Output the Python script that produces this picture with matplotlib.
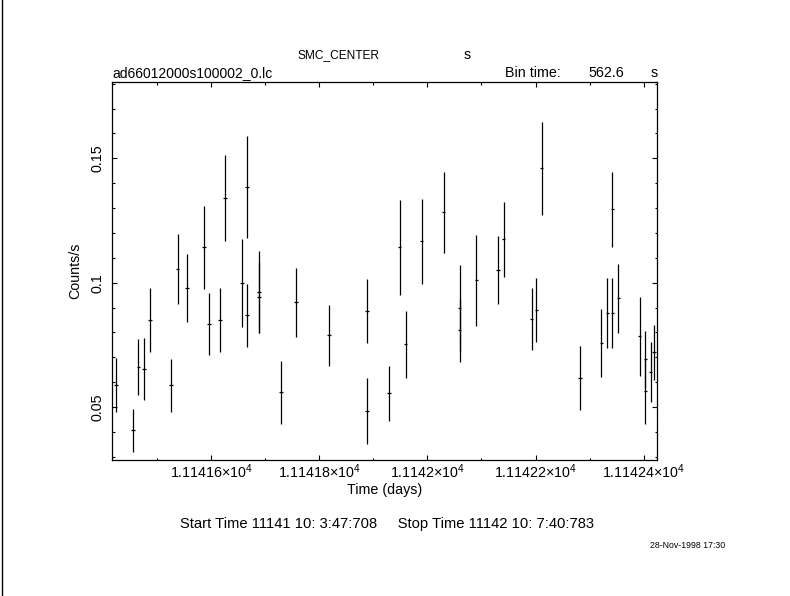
import matplotlib
matplotlib.use("Agg")
import matplotlib.pyplot as plt
from matplotlib.lines import Line2D
from matplotlib.ticker import MultipleLocator, FuncFormatter

plt.rcParams['font.family'] = ['Liberation Sans', 'DejaVu Sans']
plt.rcParams['mathtext.fontset'] = 'custom'
plt.rcParams['mathtext.rm'] = 'Liberation Sans'

# light curve
time_days = [11141.4244, 11141.4558, 11141.4654, 11141.4761, 11141.4872,
             11141.5260, 11141.5378, 11141.5555, 11141.5869, 11141.5961,
             11141.6164, 11141.6257, 11141.6574, 11141.6663, 11141.6663,
             11141.6885, 11141.6885, 11141.7291, 11141.7572, 11141.8177,
             11141.8879, 11141.8879, 11141.9293, 11141.9488, 11141.9599,
             11141.9895, 11142.0301, 11142.0596, 11142.0596, 11142.0905,
             11142.1306, 11142.1409, 11142.1926, 11142.2018, 11142.2111,
             11142.2825, 11142.3219, 11142.3330, 11142.3422, 11142.3422,
             11142.3533, 11142.3924, 11142.4030, 11142.4030, 11142.4131,
             11142.4190]
rate = [0.0588, 0.0406, 0.0660, 0.0653, 0.0849,
        0.0587, 0.1054, 0.0977, 0.1142, 0.0833,
        0.0849, 0.1340, 0.0998, 0.1385, 0.0869,
        0.0961, 0.0941, 0.0559, 0.0921, 0.0788,
        0.0885, 0.0483, 0.0555, 0.1142, 0.0752,
        0.1166, 0.1283, 0.0898, 0.0808, 0.1009,
        0.1050, 0.1174, 0.0853, 0.0890, 0.1460,
        0.0617, 0.0756, 0.0878, 0.0878, 0.1295,
        0.0937, 0.0784, 0.0692, 0.0564, 0.0641,
        0.0720]
rate_err = [0.0109, 0.0085, 0.0112, 0.0125, 0.0128,
            0.0106, 0.0141, 0.0137, 0.0167, 0.0124,
            0.0128, 0.0172, 0.0176, 0.0206, 0.0126,
            0.0165, 0.0142, 0.0126, 0.0138, 0.0122,
            0.0128, 0.0132, 0.0112, 0.0190, 0.0136,
            0.0172, 0.0162, 0.0173, 0.0126, 0.0184,
            0.0137, 0.0151, 0.0124, 0.0128, 0.0187,
            0.0127, 0.0137, 0.0139, 0.0139, 0.0152,
            0.0138, 0.0159, 0.0114, 0.0133, 0.0120,
            0.0110]

bin_time = 562.6  # s
start_day, start_sec = 11141, 10 * 3600 + 3 * 60 + 47.708
stop_day, stop_sec = 11142, 10 * 3600 + 7 * 60 + 40.783
y_range = (0.0287, 0.1807)

half_bin = bin_time / 86400 / 2
t_start = start_day + start_sec / 86400
t_stop = stop_day + stop_sec / 86400

W, H = 790, 596
fig = plt.figure(figsize=(W / 100, H / 100), dpi=100)
ax = fig.add_axes([111.7 / W, 1 - 460 / H, (657.3 - 111.7) / W, (460 - 82) / H])

ax.errorbar(time_days, rate, yerr=rate_err, xerr=half_bin, fmt='none',
            ecolor='black', elinewidth=0.9, capsize=0)

ax.set_xlim(t_start - half_bin, t_stop + half_bin)
ax.set_ylim(*y_range)

ax.xaxis.set_major_locator(MultipleLocator(0.2))
ax.xaxis.set_minor_locator(MultipleLocator(0.1))
ax.yaxis.set_major_locator(MultipleLocator(0.05))
ax.yaxis.set_minor_locator(MultipleLocator(0.01))
ax.xaxis.set_major_formatter(FuncFormatter(lambda v, p: f"{v / 1e4:g}×10$^{{4}}$"))
ax.yaxis.set_major_formatter(FuncFormatter(lambda v, p: f"{v:g}"))

ax.tick_params(which='both', direction='in', top=True, right=True, width=0.8,
               labelsize=10.3)
ax.tick_params(which='major', length=3.6)
ax.tick_params(which='minor', length=1.8)
ax.tick_params(axis='x', pad=2)
ax.tick_params(axis='y', pad=5)
for lab in ax.get_yticklabels():
    lab.set_rotation(90)
    lab.set_va('center')
for s in ax.spines.values():
    s.set_linewidth(0.9)

ax.set_xlabel("Time (days)", fontsize=10.3, va='center')
ax.xaxis.set_label_coords(0.5, (460 - 490) / 378)
ax.set_ylabel("Counts/s", fontsize=10.3, va='center')
ax.yaxis.set_label_coords((75 - 111.7) / 545.6, (460 - 271) / 378)


def ftext(x, y, s, size=10.3, **kw):
    fig.text(x / W, 1 - y / H, s, va='center', fontsize=size, **kw)


ftext(338, 55, "SMC_CENTER", size=8.6, ha='center')
ftext(467, 55, "s", ha='center')
ftext(112, 73, "ad66012000s100002_0.lc", size=10, ha='left')
ftext(505, 73, "Bin time:", ha='left')
ftext(624, 73, f"{bin_time:.1f}", ha='right')
ftext(654, 73, "s", ha='center')
ftext(387, 524, "Start Time %d 10: 3:47:708     Stop Time %d 10: 7:40:783"
      % (start_day, stop_day), size=10.6, ha='center')
ftext(688, 545, "28-Nov-1998 17:30", size=6.3, ha='center')

fig.add_artist(Line2D([1.5 / W, 1.5 / W], [0, 1], color='black', lw=1,
                      transform=fig.transFigure))

fig.savefig("out.png", dpi=100)
